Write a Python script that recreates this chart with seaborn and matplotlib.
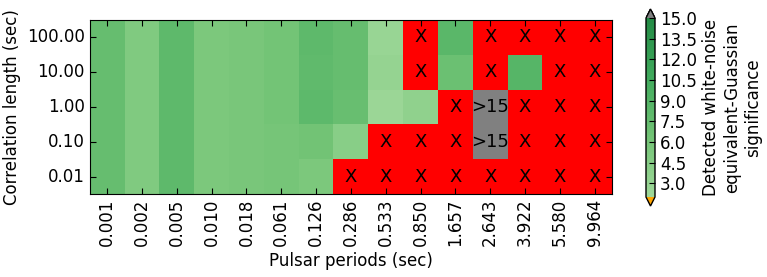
import numpy as np
import pandas as pd
import matplotlib
matplotlib.use("Agg")
import matplotlib.pyplot as plt
import seaborn as sns
from matplotlib.colors import LinearSegmentedColormap, ListedColormap

periods = ["0.001", "0.002", "0.005", "0.010", "0.018", "0.061", "0.126", "0.286",
           "0.533", "0.850", "1.657", "2.643", "3.922", "5.580", "9.964"]
corr_lengths = ["100.00", "10.00", "1.00", "0.10", "0.01"]

# NaN = not detected (X), 16 = above 15 sigma (>15)
nan = np.nan
row_100 = [7.4, 5.0, 8.0, 5.5, 5.8, 6.3, 8.1, 7.4, 2.7, nan, 8.4, nan, nan, nan, nan]
row_10 = [7.4, 5.0, 8.0, 5.5, 5.8, 6.3, 7.9, 7.4, 3.0, nan, 7.0, nan, 8.8, nan, nan]
row_1 = [7.4, 5.0, 8.0, 5.5, 5.8, 6.3, 8.2, 7.2, 2.5, 3.6, nan, 16, nan, nan, nan]
row_01 = [7.4, 5.0, 8.0, 5.5, 5.8, 6.1, 6.4, 4.2, nan, nan, nan, 16, nan, nan, nan]
row_001 = [7.4, 5.0, 8.0, 5.5, 5.8, 6.1, 5.5, nan, nan, nan, nan, nan, nan, nan, nan]

data = pd.DataFrame([row_100, row_10, row_1, row_01, row_001], index=corr_lengths, columns=periods)

plt.rcParams.update({"font.size": 12})

cmap = LinearSegmentedColormap.from_list("grn", plt.cm.Greens(np.linspace(0.38, 0.75, 256)))
cmap.set_over("grey")
cmap.set_under("orange")

fig = plt.figure(figsize=(7.67, 2.77), dpi=100)
ax = fig.add_axes([0.117, 0.30, 0.681, 0.628])
cax = fig.add_axes([646 / 767, 71 / 277, 9 / 767, 197 / 277])

# red background layer with X for the missing cells
missing = data.isna()
red_layer = pd.DataFrame(1.0, index=data.index, columns=data.columns)
sns.heatmap(red_layer, mask=~missing, cmap=ListedColormap(["red"]), cbar=False,
            annot=np.where(missing, "X", ""), fmt="", annot_kws={"color": "black", "fontsize": 13}, ax=ax)

labels = np.where(data > 15, ">15", "")
sns.heatmap(data, mask=missing, cmap=cmap, vmin=2, vmax=15, ax=ax, cbar_ax=cax,
            annot=labels, fmt="", annot_kws={"color": "black", "fontsize": 13},
            cbar_kws={"extend": "both", "ticks": np.arange(3, 15.1, 1.5), "format": "%.1f"})

for s in ax.spines.values():
    s.set_visible(True)
    s.set_color("black")
ax.set_axisbelow(False)
ax.xaxis.set_ticks_position("both")
ax.yaxis.set_ticks_position("both")
ax.tick_params(direction="in", length=4, width=0.8, color="black", labelsize=12)
ax.set_xticklabels(periods, rotation=90)
ax.set_yticklabels(corr_lengths, rotation=0)
ax.set_xlabel("Pulsar periods (sec)", fontsize=12)
ax.set_ylabel("Correlation length (sec)", fontsize=12)

cbar = ax.collections[-1].colorbar
cbar.outline.set_edgecolor("black")
cbar.outline.set_linewidth(1)
cbar.ax.set_axisbelow(False)
cbar.ax.tick_params(direction="in", length=4, width=0.8, color="black", labelsize=12)
cbar.set_label("Detected white-noise\nequivalent-Guassian\nsignificance", fontsize=12)

fig.savefig("out.png", dpi=100)
